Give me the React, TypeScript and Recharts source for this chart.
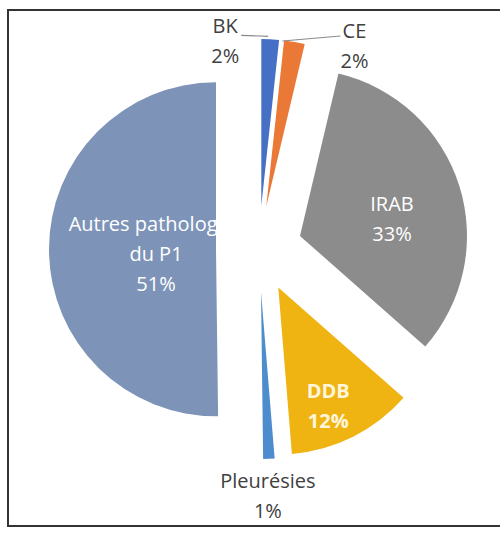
import * as React from 'react'
import { Cell, Pie, PieChart } from 'recharts'

// DATA

const CATEGORY_LINES = [['BK'], ['CE'], ['IRAB'], ['DDB'], ['Pleurésies'], ['Autres pathologies', 'du P1']]
const VALUES = [1.7, 2.0, 32.8, 12.2, 1.1, 50.2]
const PERCENT_LABELS = ['2%', '2%', '33%', '12%', '1%', '51%']

// STYLE

const COLORS = ['#4670C6', '#EA7836', '#8C8C8C', '#EFB312', '#4E8DCD', '#7D94B8']
const FONT = '"Open Sans", "Noto Sans", sans-serif'
const CENTER = { x: 259, y: 249 }
const RADIUS = 167
const EXPLODE = 43
const LINE_HEIGHT = 30

// label placement: inside labels are offset from the slice apex, outside labels from the arc midpoint
type LabelLayout = { from: 'apex' | 'outer', dx: number, dy: number, color: string, bold?: boolean, leader?: [number, number, number, number] }
const LAYOUT: LabelLayout[] = [
    { from: 'outer', dx: -45, dy: -14, color: '#404040', leader: [-2, -3, -29, -4] },
    { from: 'outer', dx: 60, dy: -12, color: '#404040', leader: [-12, -1, 46, -6] },
    { from: 'apex', dx: 92, dy: -33, color: '#ffffff' },
    { from: 'apex', dx: 50, dy: 103, color: '#fff6dc', bold: true },
    { from: 'outer', dx: -1, dy: 21, color: '#404040' },
    { from: 'apex', dx: -60, dy: -26, color: '#ffffff' },
]

const data = CATEGORY_LINES.map((lines, i) => ({ name: lines.join(' '), value: VALUES[i] }))
const total = VALUES.reduce((a, b) => a + b, 0)

// mid angle of each slice, clockwise from 12 o'clock, in degrees
const midAngles = VALUES.map((v, i) => {
    const before = VALUES.slice(0, i).reduce((a, b) => a + b, 0)
    return (before + v / 2) / total * 360
})

const RAD = Math.PI / 180

const renderLabel = (slice: number) => (props: any) => {
    if (props.index !== slice) return <g/>
    const layout = LAYOUT[slice]
    const cx = Number(props.cx)
    const cy = Number(props.cy)
    const r = Number(props.outerRadius)
    const ox = cx + r * Math.cos(-props.midAngle * RAD)
    const oy = cy + r * Math.sin(-props.midAngle * RAD)
    const ax = layout.from === 'apex' ? cx : ox
    const ay = layout.from === 'apex' ? cy : oy
    const lines = [...CATEGORY_LINES[slice], PERCENT_LABELS[slice]]
    const tx = ax + layout.dx
    const ty = ay + layout.dy
    return (
        <g>
            {layout.leader && (
                <line x1={ox + layout.leader[0]} y1={oy + layout.leader[1]} x2={ox + layout.leader[2]} y2={oy + layout.leader[3]} stroke='#8a8a8a' strokeWidth={1.2}/>
            )}
            <text x={tx} y={ty} textAnchor='middle' dominantBaseline='central' fill={layout.color} fontFamily={FONT} fontSize={20} fontWeight={layout.bold ? 700 : 400}>
                {lines.map((line, k) => (
                    <tspan key={k} x={tx} y={ty + k * LINE_HEIGHT}>{line}</tspan>
                ))}
            </text>
        </g>
    )
}

export default function App() {
    return (
        <div style={{ position: 'fixed', left: 0, top: 0, width: 500, height: 533, background: '#fff', overflow: 'hidden' }}>
            <div style={{ position: 'absolute', left: 7, top: 9, width: 520, height: 518, border: '2px solid #333', boxSizing: 'border-box' }}/>
            <div style={{ position: 'absolute', left: 0, top: 0 }}>
                <PieChart width={500} height={533} margin={{ top: 0, right: 0, bottom: 0, left: 0 }}>
                    {midAngles.map((mid, i) => (
                        <Pie
                            key={i}
                            data={data}
                            dataKey='value'
                            nameKey='name'
                            cx={CENTER.x + EXPLODE * Math.sin(mid * RAD)}
                            cy={CENTER.y - EXPLODE * Math.cos(mid * RAD)}
                            outerRadius={RADIUS}
                            startAngle={90}
                            endAngle={-270}
                            stroke='none'
                            label={renderLabel(i)}
                            labelLine={false}
                            isAnimationActive={false}
                        >
                            {data.map((_, j) => (
                                <Cell key={j} fill={j === i ? COLORS[j] : 'none'} stroke='none'/>
                            ))}
                        </Pie>
                    ))}
                </PieChart>
            </div>
        </div>
    )
}
